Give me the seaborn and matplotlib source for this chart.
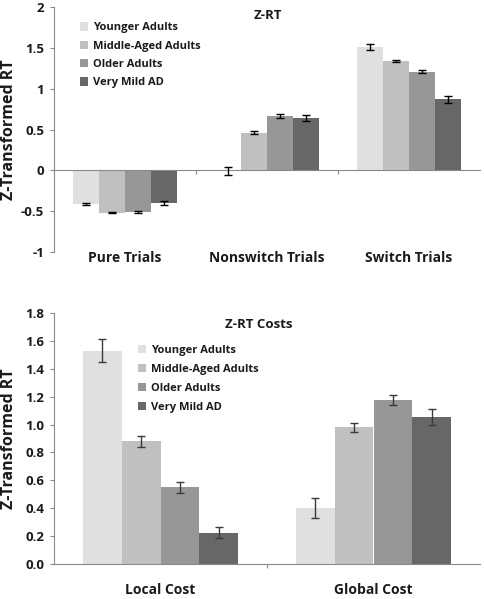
import matplotlib
matplotlib.use("Agg")
import matplotlib.pyplot as plt
import matplotlib.ticker as mticker
import pandas as pd
import seaborn as sns

groups = ["Younger Adults", "Middle-Aged Adults", "Older Adults", "Very Mild AD"]
palette = ["#e0e0e0", "#c0c0c0", "#979797", "#676767"]

trial_types = ["Pure Trials", "Nonswitch Trials", "Switch Trials"]
zrt_young = [-0.41, -0.01, 1.51]
zrt_middle = [-0.52, 0.46, 1.34]
zrt_older = [-0.51, 0.66, 1.21]
zrt_vmad = [-0.40, 0.64, 0.87]
zrt_err_young = [0.015, 0.05, 0.035]
zrt_err_middle = [0.008, 0.02, 0.012]
zrt_err_older = [0.01, 0.025, 0.018]
zrt_err_vmad = [0.02, 0.035, 0.04]

cost_types = ["Local Cost", "Global Cost"]
cost_young = [1.53, 0.40]
cost_middle = [0.88, 0.98]
cost_older = [0.55, 1.175]
cost_vmad = [0.225, 1.055]
cost_err_young = [0.08, 0.07]
cost_err_middle = [0.04, 0.03]
cost_err_older = [0.04, 0.035]
cost_err_vmad = [0.04, 0.055]

sns.set_style("white")
plt.rcParams['font.family'] = ['Open Sans', 'DejaVu Sans']
plt.rcParams['font.weight'] = 'bold'
TXT = "#1a1a1a"


def long_form(cats, vals, errs):
    rows = []
    for g, v, e in zip(groups, vals, errs):
        for c, vi, ei in zip(cats, v, e):
            rows.append({"cat": c, "group": g, "value": vi, "err": ei})
    return pd.DataFrame(rows)


def draw(ax, df, cats, ecolor):
    sns.barplot(data=df, x="cat", y="value", hue="group", order=cats, hue_order=groups,
                palette=palette, width=0.73, gap=0, errorbar=None, saturation=1,
                linewidth=0, ax=ax)
    for cont, g in zip(ax.containers, groups):
        sub = df[df.group == g].set_index("cat").loc[cats]
        xs = [b.get_x() + b.get_width() / 2 for b in cont]
        ax.errorbar(xs, sub["value"], yerr=sub["err"], fmt="none", ecolor=ecolor,
                    elinewidth=1, capsize=2.6, capthick=1, zorder=5)
    ax.set_xlim(-0.5, len(cats) - 0.5)
    for s in ["top", "right"]:
        ax.spines[s].set_visible(False)
    ax.spines["left"].set_color("#8a8a8a")
    ax.spines["bottom"].set_color("#8a8a8a")
    ax.spines["bottom"].set_position(("data", 0))
    ax.tick_params(axis="y", left=True, length=3, color="#8a8a8a", labelsize=9.5,
                   labelcolor=TXT, pad=4)
    for t in ax.get_yticklabels():
        t.set_fontweight("bold")
    ax.set_xticks([i + 0.5 for i in range(len(cats) - 1)])
    ax.tick_params(axis="x", bottom=True, length=3, color="#8a8a8a", labelbottom=False)
    ax.set_xlabel("")
    ax.set_ylabel("Z-Transformed RT", fontsize=11.5, fontweight="bold", color=TXT)
    ax.yaxis.set_label_coords(-0.088, 0.5)
    leg = ax.get_legend()
    if leg:
        leg.remove()


def add_legend(ax, anchor, spacing):
    leg = ax.legend(ax.containers, groups, loc="upper left", bbox_to_anchor=anchor,
                    frameon=False, prop={"size": 8, "weight": "bold"},
                    labelspacing=spacing, handlelength=0.75, handleheight=0.75,
                    handletextpad=0.4, borderpad=0, borderaxespad=0, labelcolor=TXT)
    return leg


fig = plt.figure(figsize=(4.84, 5.99), dpi=100)

ax1 = fig.add_axes([54 / 484, (599 - 252) / 599, 426 / 484, 245 / 599])
df1 = long_form(trial_types, [zrt_young, zrt_middle, zrt_older, zrt_vmad],
                [zrt_err_young, zrt_err_middle, zrt_err_older, zrt_err_vmad])
draw(ax1, df1, trial_types, "black")
ax1.set_ylim(-1, 2)
ax1.yaxis.set_major_locator(mticker.MultipleLocator(0.5))
ax1.yaxis.set_major_formatter(mticker.FuncFormatter(lambda v, p: f"{v:g}"))
sec1 = ax1.secondary_xaxis(0.0)
sec1.set_xticks(range(len(trial_types)), trial_types, fontweight="bold")
sec1.tick_params(length=0, labelsize=10, pad=-0.5, labelcolor=TXT)
sec1.spines["bottom"].set_visible(False)
ax1.text(0.502, 0.967, "Z-RT", transform=ax1.transAxes, ha="center", va="center",
         fontsize=9.5, fontweight="bold", color=TXT)
add_legend(ax1, (0.061, 0.937), 0.66)

ax2 = fig.add_axes([54 / 484, (599 - 564) / 599, 426 / 484, 251 / 599])
df2 = long_form(cost_types, [cost_young, cost_middle, cost_older, cost_vmad],
                [cost_err_young, cost_err_middle, cost_err_older, cost_err_vmad])
draw(ax2, df2, cost_types, "#3a3a3a")
ax2.set_ylim(0, 1.8)
ax2.yaxis.set_major_locator(mticker.MultipleLocator(0.2))
ax2.yaxis.set_major_formatter(mticker.FormatStrFormatter("%.1f"))
sec2 = ax2.secondary_xaxis(0.0)
sec2.set_xticks(range(len(cost_types)), cost_types, fontweight="bold")
sec2.tick_params(length=0, labelsize=10, pad=14, labelcolor=TXT)
sec2.spines["bottom"].set_visible(False)
ax2.text(0.481, 0.956, "Z-RT Costs", transform=ax2.transAxes, ha="center", va="center",
         fontsize=9.5, fontweight="bold", color=TXT)
add_legend(ax2, (0.197, 0.874), 0.74)

fig.savefig("out.png", dpi=100)
